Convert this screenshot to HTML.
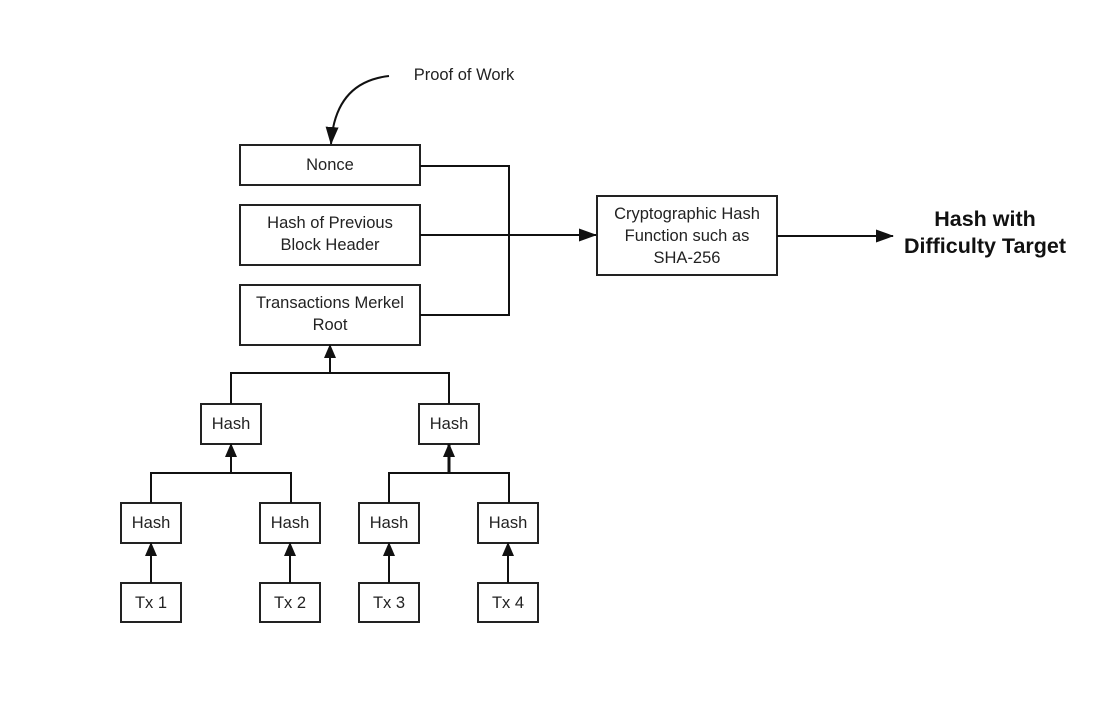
<!DOCTYPE html>
<html><head><meta charset="utf-8"><style>
html,body{margin:0;padding:0;background:#fff;}
svg{display:block;}
text{font-family:"Liberation Sans",Arial,sans-serif;fill:#222;}
</style></head><body>
<svg width="1095" height="717" viewBox="0 0 1095 717" xmlns="http://www.w3.org/2000/svg">
<defs>
<marker id="a" markerWidth="14" markerHeight="12" refX="13" refY="6" orient="auto" markerUnits="userSpaceOnUse">
<path d="M0,0 L14,6 L0,12 Z" fill="#111"/></marker>
<marker id="b" markerWidth="18" markerHeight="13" refX="17" refY="6.5" orient="auto" markerUnits="userSpaceOnUse">
<path d="M0,0 L18,6.5 L0,13 Z" fill="#111"/></marker>
</defs>
<rect width="1095" height="717" fill="#fff"/>
<g fill="#fff" stroke="#222" stroke-width="2">
<rect x="240" y="145" width="180" height="40"/>
<rect x="240" y="205" width="180" height="60"/>
<rect x="240" y="285" width="180" height="60"/>
<rect x="597" y="196" width="180" height="79"/>
<rect x="201" y="404" width="60" height="40"/>
<rect x="419" y="404" width="60" height="40"/>
<rect x="121" y="503" width="60" height="40"/>
<rect x="260" y="503" width="60" height="40"/>
<rect x="359" y="503" width="60" height="40"/>
<rect x="478" y="503" width="60" height="40"/>
<rect x="121" y="583" width="60" height="39"/>
<rect x="260" y="583" width="60" height="39"/>
<rect x="359" y="583" width="60" height="39"/>
<rect x="478" y="583" width="60" height="39"/>
</g>
<g fill="none" stroke="#111" stroke-width="2">
<path d="M389,76 Q335,82 331,144" marker-end="url(#b)"/>
<path d="M420,166 H509 V315 H420"/>
<path d="M420,235 H596" marker-end="url(#b)"/>
<path d="M777,236 H893" marker-end="url(#b)"/>
<path d="M231,404 V373 H449 V404"/>
<path d="M330,373 V345" marker-end="url(#a)"/>
<path d="M151,503 V473 H291 V503"/>
<path d="M231,473 V444" marker-end="url(#a)"/>
<path d="M389,503 V473 H509 V503"/>
<path d="M449,473 V444" marker-end="url(#a)" stroke-width="3"/>
<path d="M151,583 V543" marker-end="url(#a)"/>
<path d="M290,583 V543" marker-end="url(#a)"/>
<path d="M389,583 V543" marker-end="url(#a)"/>
<path d="M508,583 V543" marker-end="url(#a)"/>
</g>
<g font-size="16.5" text-anchor="middle">
<text x="464" y="80">Proof of Work</text>
<text x="330" y="170">Nonce</text>
<text x="330" y="228">Hash of Previous</text>
<text x="330" y="250">Block Header</text>
<text x="330" y="308">Transactions Merkel</text>
<text x="330" y="330">Root</text>
<text x="687" y="219">Cryptographic Hash</text>
<text x="687" y="241">Function such as</text>
<text x="687" y="263">SHA-256</text>
<text x="231" y="429">Hash</text>
<text x="449" y="429">Hash</text>
<text x="151" y="528">Hash</text>
<text x="290" y="528">Hash</text>
<text x="389" y="528">Hash</text>
<text x="508" y="528">Hash</text>
<text x="151" y="608">Tx 1</text>
<text x="290" y="608">Tx 2</text>
<text x="389" y="608">Tx 3</text>
<text x="508" y="608">Tx 4</text>
</g>
<g font-size="21.5" font-weight="bold" text-anchor="middle">
<text x="985" y="226" style="fill:#111">Hash with</text>
<text x="985" y="253" style="fill:#111">Difficulty Target</text>
</g>
</svg>
</body></html>
